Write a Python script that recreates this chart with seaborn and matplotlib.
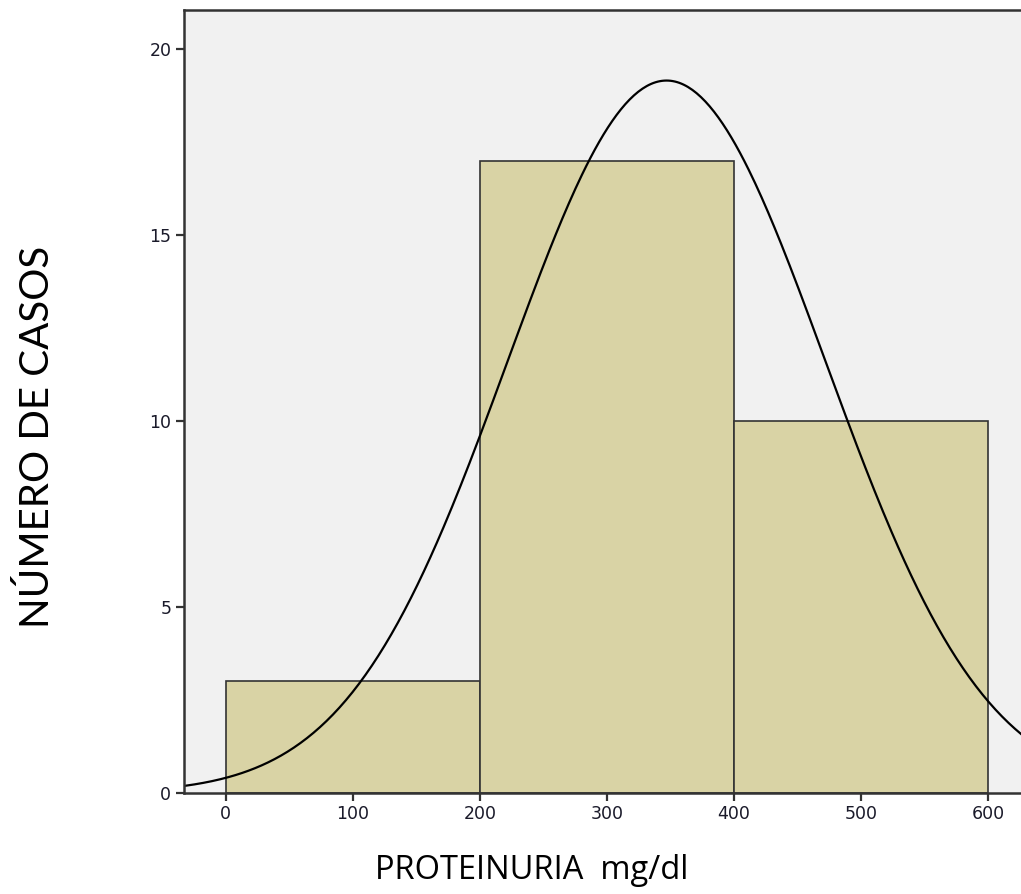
import numpy as np
import pandas as pd
import matplotlib
matplotlib.use("Agg")
import matplotlib.pyplot as plt
import seaborn as sb

# bins and counts
bin_edges = [0, 200, 400, 600]
counts = [3, 17, 10]
# normal curve fitted by SPSS (approx.)
media = 347
desvio = 125
x_ticks = [0, 100, 200, 300, 400, 500, 600]
y_ticks = [0, 5, 10, 15, 20]

mids = [(a + b) / 2 for a, b in zip(bin_edges[:-1], bin_edges[1:])]
df = pd.DataFrame({'proteinuria': mids, 'casos': counts})

n = sum(counts)
largura = bin_edges[1] - bin_edges[0]
xs = np.linspace(-40, 640, 400)
curva = pd.DataFrame({'x': xs,
                      'y': n * largura * np.exp(-0.5 * ((xs - media) / desvio) ** 2) / (desvio * np.sqrt(2 * np.pi))})

sb.set_style('ticks')
plt.rcParams['font.family'] = ['DejaVu Sans']

fig = plt.figure(figsize=(10.21, 8.94), dpi=100)
ax = fig.add_axes([0.180, 0.113, 0.82, 0.876])
ax.set_facecolor('#F1F1F1')

sb.histplot(data=df, x='proteinuria', weights='casos', bins=bin_edges,
            color='#D9D3A5', edgecolor='#333333', linewidth=1.2, alpha=1, ax=ax)
sb.lineplot(data=curva, x='x', y='y', color='black', linewidth=1.6, ax=ax)

ax.set_xlim(-33, 626)
ax.set_ylim(0, 21.05)
ax.set_xticks(x_ticks)
ax.set_yticks(y_ticks)
ax.tick_params(axis='both', labelsize=12.5, length=6, width=1.6, colors='#333333',
               labelcolor='#1a1a2a', pad=3)
for s in ['left', 'bottom', 'top']:
    ax.spines[s].set_linewidth(1.8)
    ax.spines[s].set_color('#333333')
ax.spines['right'].set_visible(False)

ax.set_xlabel('PROTEINURIA  mg/dl', fontsize=23.5, family='Open Sans', va='center', color='black')
ax.xaxis.set_label_coords(0.416, -0.0996)
ax.set_ylabel('NÚMERO DE CASOS', fontsize=29, family='Lato', va='center', color='black')
ax.yaxis.set_label_coords(-0.175, 0.455)

plt.savefig('out.png', dpi=100)
